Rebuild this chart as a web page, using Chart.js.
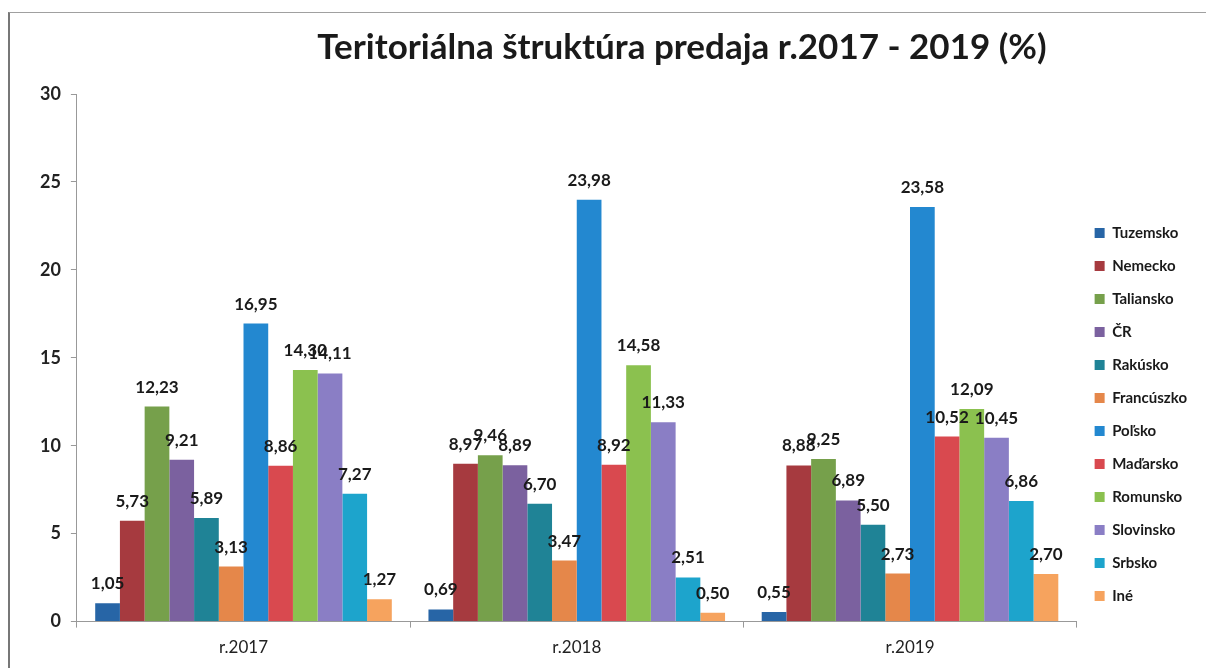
<!DOCTYPE html>
<html>
<head>
<meta charset="utf-8">
<script src="https://cdn.jsdelivr.net/npm/chart.js@4.4.1/dist/chart.umd.min.js"></script>
<style>
    html, body { margin: 0; padding: 0; background: #fff; }
    #wrap { position: relative; width: 1206px; height: 668px; overflow: hidden; }
    #frame { position: absolute; left: 8px; top: 12px; width: 1220px; height: 700px; border-top: 1px solid #a0a0a0; border-left: 2px solid #777; }
    canvas { position: absolute; left: 0; top: 0; }
</style>
</head>
<body>
<div id="wrap">
    <div id="frame"></div>
    <canvas id="territoryChart" width="1206" height="668"></canvas>
</div>
<script>
const years = ['r.2017', 'r.2018', 'r.2019'];
const countries = ['Tuzemsko', 'Nemecko', 'Taliansko', 'ČR', 'Rakúsko', 'Francúszko',
    'Poľsko', 'Maďarsko', 'Romunsko', 'Slovinsko', 'Srbsko', 'Iné'];

// shares per country for 2017, 2018, 2019
const tuzemsko = [1.05, 0.69, 0.55];
const nemecko = [5.73, 8.97, 8.88];
const taliansko = [12.23, 9.46, 9.25];
const cr = [9.21, 8.89, 6.89];
const rakusko = [5.89, 6.70, 5.50];
const francuzsko = [3.13, 3.47, 2.73];
const polsko = [16.95, 23.98, 23.58];
const madarsko = [8.86, 8.92, 10.52];
const romunsko = [14.30, 14.58, 12.09];
const slovinsko = [14.11, 11.33, 10.45];
const srbsko = [7.27, 2.51, 6.86];
const ine = [1.27, 0.50, 2.70];

const yTicks = [0, 5, 10, 15, 20, 25, 30];

const seriesValues = [tuzemsko, nemecko, taliansko, cr, rakusko, francuzsko,
    polsko, madarsko, romunsko, slovinsko, srbsko, ine];
const barColors = ['#2765A6', '#A63A3F', '#76A04B', '#7B619F', '#1F8396', '#E5874A',
    '#2388D0', '#D9494F', '#8BC14F', '#8A7EC5', '#1DA4CC', '#F6A35E'];

const fontFamily = 'Lato, "Open Sans", sans-serif';

const valueLabels = {
    id: 'valueLabels',
    afterDatasetsDraw(chart) {
        const ctx = chart.ctx;
        ctx.save();
        ctx.font = 'bold 17px ' + fontFamily;
        ctx.fillStyle = '#1a1a1a';
        ctx.textAlign = 'center';
        ctx.textBaseline = 'alphabetic';
        chart.data.datasets.forEach((ds, i) => {
            chart.getDatasetMeta(i).data.forEach((bar, j) => {
                ctx.fillText(ds.data[j].toFixed(2).replace('.', ','), bar.x, bar.y - 14);
            });
        });
        ctx.restore();
    }
};

const chartTitle = {
    id: 'chartTitle',
    afterDraw(chart) {
        const ctx = chart.ctx;
        ctx.save();
        ctx.font = 'bold 35px ' + fontFamily;
        ctx.fillStyle = '#1a1a1a';
        ctx.textAlign = 'center';
        ctx.fillText('Teritoriálna štruktúra predaja r.2017 - 2019 (%)', 682, 59);
        ctx.restore();
    }
};

new Chart(document.getElementById('territoryChart'), {
    type: 'bar',
    data: {
        labels: years,
        datasets: countries.map((name, i) => ({
            label: name,
            data: seriesValues[i],
            backgroundColor: barColors[i],
            borderWidth: 0
        }))
    },
    options: {
        responsive: false,
        animation: false,
        layout: {
            padding: { left: 30, right: 9, top: 94, bottom: 0 }
        },
        datasets: {
            bar: { categoryPercentage: 0.89, barPercentage: 1 }
        },
        scales: {
            x: {
                grid: { drawOnChartArea: false, tickLength: 6, color: '#999' },
                border: { color: '#999' },
                ticks: { color: '#222', padding: 10, font: { family: fontFamily, size: 17 } }
            },
            y: {
                min: 0,
                max: 30,
                afterBuildTicks: (axis) => { axis.ticks = yTicks.map(v => ({ value: v })); },
                grid: { drawOnChartArea: false, tickLength: 6, color: '#999' },
                border: { color: '#999' },
                ticks: { color: '#222', padding: 10, font: { family: fontFamily, size: 18, weight: 'bold' } }
            }
        },
        plugins: {
            tooltip: { enabled: false },
            legend: {
                position: 'right',
                align: 'end',
                fullSize: false,
                labels: {
                    boxWidth: 10,
                    boxHeight: 10,
                    padding: 18,
                    color: '#1a1a1a',
                    font: { family: fontFamily, size: 15, weight: 'bold' }
                }
            }
        }
    },
    plugins: [valueLabels, chartTitle]
});
</script>
</body>
</html>
